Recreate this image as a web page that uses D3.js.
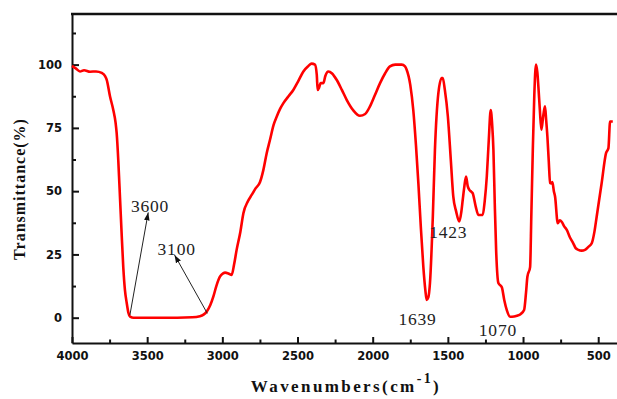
<!DOCTYPE html>
<meta charset="utf-8">
<style>
body{margin:0;background:#fff;}
svg{display:block;}
.axis text{font-family:'DejaVu Sans',sans-serif;font-weight:bold;font-size:11.5px;fill:#111;}
.axis path,.axis line{stroke:#111;stroke-width:2;}
.note{font-family:'Liberation Serif','Times New Roman',serif;font-size:17.5px;letter-spacing:0.8px;fill:#222;}
.lab{font-family:'Liberation Serif','Times New Roman',serif;font-weight:bold;fill:#111;}
</style>
<svg id="svg"></svg>
<script src="https://d3js.org/d3.v7.min.js"></script>
<script>
var width = 617, height = 399;
var margin = {top: 14, right: 0, bottom: 56, left: 72};

// wavenumber (cm-1) and transmittance (%)
var wavenumber = [4000,3975,3947,3920,3880,3840,3802,3780,3769,3747,3725,3710,3703,3692,3685,3672,3659,3648,3636,3625,3614,3590,3400,3200,3149,3125,3104,3080,3060,3040,3016,2995,2982,2960,2938,2922,2905,2880,2860,2830,2805,2780,2750,2727,2705,2683,2660,2638,2616,2594,2560,2528,2495,2461,2430,2406,2384,2372,2366,2356,2346,2328,2315,2295,2270,2240,2205,2173,2130,2085,2050,2018,1985,1951,1918,1885,1850,1807,1785,1774,1750,1730,1712,1696,1680,1663,1650,1641,1630,1619,1600,1586,1563,1541,1534,1520,1500,1480,1464,1445,1424,1410,1401,1390,1379,1368,1357,1345,1335,1315,1297,1268,1255,1241,1228,1215,1205,1197,1188,1179,1164,1141,1125,1108,1086,1060,1041,1015,993,980,971,953,945,935,925,914,905,898,888,878,865,854,846,838,829,820,812,805,795,787,769,755,742,725,709,690,666,650,632,610,588,565,543,525,510,477,448,432,421,403];
var transmittance = [99.5,98.5,97.3,97.8,97.2,97.3,96.7,95.5,94,87.4,82,77,73,62,53,36,20,11,5.8,2,0.4,0,0,0.2,0.6,1.2,2.4,5,8.3,12.5,16.2,17.5,17.8,17.5,16.9,21,26.8,34,41.3,46,48.5,51,53.5,58.4,65,70.3,76,79.5,82.5,84.8,87.5,90,93.5,97.3,99.3,100.4,100,96,90,91,92.7,92.7,95.5,97.3,96.5,94,90,86.1,82,79.8,80.5,83.5,88,92.7,96.5,99.3,100,100,99.3,98,92,82,68,53,36,20,11,7,8,13.7,40,66.3,88.8,94.7,94.7,90,79.5,62,47.9,42,38,42,46.6,52,55.8,52,50.5,49.8,49.2,44,40.6,40.6,46,55.8,70,82,76,66.3,45,26.8,13.7,12,7,3,0.4,0.5,0.8,1.5,3,10,16.2,20,40,66.3,88,100,97,91.4,82,74.3,80,83.5,78,71.6,62,53.2,53,53.6,50,47.9,37.3,38.5,37.8,36,34.7,32,29.4,27.5,26.8,26.5,26.8,28,29.4,34,40,53.2,65,67,77.5,77.5];

var xTicks = [4000,3500,3000,2500,2000,1500,1000,500];
var xMinor = [3750,3250,2750,2250,1750,1250,750];
var yTicks = [0,25,50,75,100];
var yMinor = [12.5,37.5,62.5,87.5,112.5];

// peak labels: text, label anchor wavenumber / transmittance
var peakText = ['3600','3100','1639','1423','1070'];
var peakX = [3481,3304,1702,1497,1167];
var peakY = [41.8,24.8,-2.9,31.6,-7.1];
// arrows: from a point on the curve to the label
var arrowFrom = [[3615,1],[3100,1.7]];
var arrowTo = [[3493,41.6],[3318,24.8]];

var pts = wavenumber.map(function(w,i){return [w, transmittance[i]];});

var svg = d3.select('#svg').attr('width', width).attr('height', height);
var x = d3.scaleLinear().domain([4000, 375]).range([margin.left, width - margin.right]);
var y = d3.scaleLinear().domain([-10, 120]).range([height - margin.bottom, margin.top]);

svg.append('defs').append('marker')
  .attr('id','arr').attr('viewBox','0 0 10 10').attr('refX',10).attr('refY',5)
  .attr('markerWidth',8).attr('markerHeight',8).attr('markerUnits','userSpaceOnUse')
  .attr('orient','auto')
  .append('path').attr('d','M0,1.5L10,5L0,8.5Z').attr('fill','#111');

// minor ticks
svg.append('g').attr('class','axis').attr('transform','translate(0,'+y(-10)+')')
  .call(d3.axisBottom(x).tickValues(xMinor).tickSize(-3.5).tickFormat(''))
  .select('.domain').remove();
svg.append('g').attr('class','axis').attr('transform','translate('+margin.left+',0)')
  .call(d3.axisLeft(y).tickValues(yMinor).tickSize(-4).tickFormat(''))
  .select('.domain').remove();

svg.append('g').attr('class','axis').attr('transform','translate(0,'+y(-10)+')')
  .call(d3.axisBottom(x).tickValues(xTicks).tickSizeInner(-6).tickSizeOuter(0).tickPadding(9).tickFormat(d3.format('d')));
svg.append('g').attr('class','axis').attr('transform','translate('+margin.left+',0)')
  .call(d3.axisLeft(y).tickValues(yTicks).tickSizeInner(-7).tickSizeOuter(0).tickPadding(10));

svg.append('line').attr('x1', margin.left - 1).attr('x2', width).attr('y1', y(120)).attr('y2', y(120))
  .attr('stroke','#111').attr('stroke-width',2.3);

var line = d3.line().x(function(d){return x(d[0]);}).y(function(d){return y(d[1]);}).curve(d3.curveMonotoneX);
svg.append('path').datum(pts).attr('d', line)
  .attr('fill','none').attr('stroke','#f00').attr('stroke-width',2.6).attr('stroke-linejoin','round');

arrowFrom.forEach(function(a,i){
  svg.append('line')
    .attr('x1', x(a[0])).attr('y1', y(a[1]))
    .attr('x2', x(arrowTo[i][0])).attr('y2', y(arrowTo[i][1]))
    .attr('stroke','#222').attr('stroke-width',1).attr('marker-end','url(#arr)');
});

svg.selectAll('text.note').data(peakText).enter().append('text')
  .attr('class','note')
  .attr('x', function(d,i){return x(peakX[i]);})
  .attr('y', function(d,i){return y(peakY[i]);})
  .attr('text-anchor','middle')
  .text(function(d){return d;});

// axis titles
var xl = svg.append('text').attr('class','lab')
  .attr('x', 346).attr('y', 392).attr('text-anchor','middle')
  .style('font-size','17px').style('letter-spacing','2.4px');
xl.append('tspan').text('Wavenumbers(cm');
xl.append('tspan').attr('dy',-9).style('font-size','14px').text('-1');
xl.append('tspan').attr('dy',9).text(')');

svg.append('text').attr('class','lab')
  .attr('transform','translate(25,189) rotate(-90)')
  .attr('text-anchor','middle')
  .style('font-size','16px').style('letter-spacing','1px')
  .text('Transmittance(%)');
</script>
